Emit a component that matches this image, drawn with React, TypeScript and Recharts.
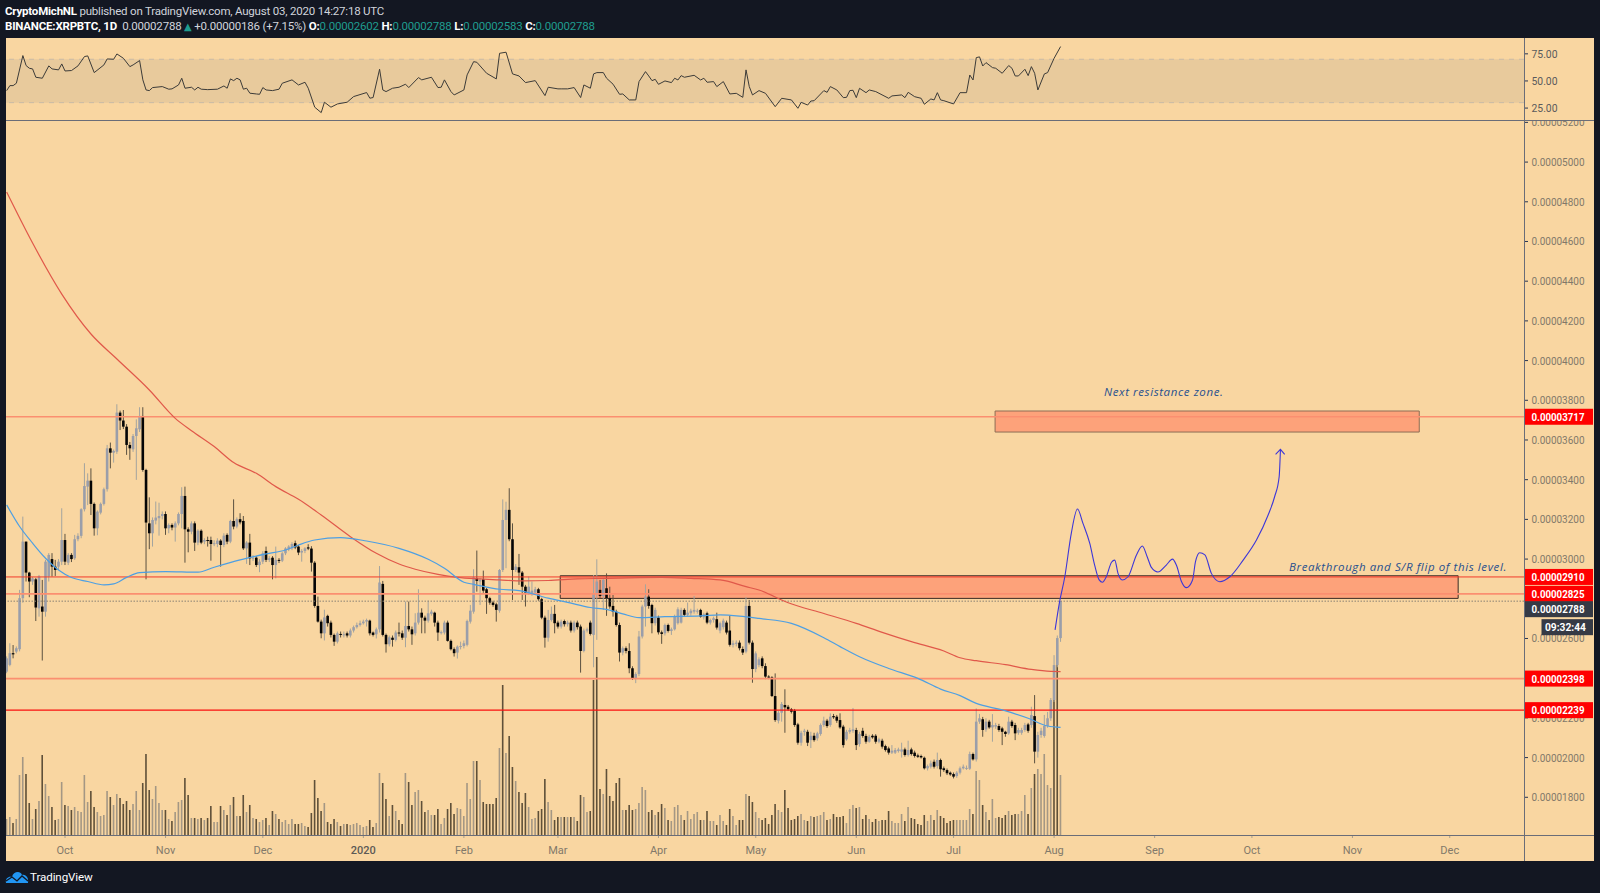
import React from "react";
import {
	Bar,
	ComposedChart,
	Line,
	ReferenceArea,
	ReferenceLine,
	XAxis,
	YAxis,
} from "recharts";

// All prices are in satoshi (1e-8 BTC). Day 0 is 2019-09-13.
const opens = [
	2433,2467,2526,2534,2546,2803,3088,2932,2887,2898,
	2752,2761,2735,2912,3000,2962,2962,2987,3096,2982,
	3021,3004,3100,3117,3251,3365,3395,3278,3155,3234,
	3278,3352,3558,3536,3541,3738,3698,3667,3575,3553,
	3620,3654,3721,3449,3180,3130,3194,3206,3217,3227,
	3155,3172,3159,3180,3227,3318,3150,3138,3180,3083,
	3143,3088,3096,3096,3080,3076,3093,3071,3122,3088,
	3192,3164,3201,3192,3054,3083,3004,3007,2970,2987,
	3041,2996,3007,2970,2996,2992,3029,3049,3054,3080,
	3063,3033,3041,3059,3053,2982,2764,2685,2626,2714,
	2680,2618,2584,2623,2618,2626,2615,2640,2657,2668,
	2677,2685,2690,2630,2621,2646,2875,2618,2571,2604,
	2593,2630,2626,2604,2663,2646,2626,2680,2730,2705,
	2690,2724,2730,2680,2630,2630,2680,2588,2546,2529,
	2559,2562,2568,2685,2735,2903,2887,2898,2848,2803,
	2781,2772,2740,2945,3197,3248,3100,2945,2959,2932,
	2861,2831,2828,2831,2848,2798,2705,2604,2693,2724,
	2680,2660,2688,2672,2680,2640,2680,2660,2537,2640,
	2680,2618,2824,2845,2814,2853,2803,2764,2735,2668,
	2529,2551,2537,2450,2400,2421,2610,2761,2811,2769,
	2677,2705,2631,2626,2668,2638,2646,2677,2680,2744,
	2719,2727,2735,2735,2744,2707,2727,2680,2693,2697,
	2640,2657,2680,2640,2568,2573,2579,2547,2534,2764,
	2579,2446,2466,2500,2461,2408,2404,2310,2186,2226,
	2265,2256,2243,2236,2167,2075,2130,2130,2088,2110,
	2097,2119,2164,2186,2164,2209,2206,2189,2156,2092,
	2130,2135,2139,2068,2135,2109,2080,2110,2110,2080,
	2085,2058,2046,2025,2025,2033,2030,2041,2013,2041,
	2025,2011,2008,1999,1946,1954,1979,1957,1988,1946,
	1937,1924,1917,1907,1924,1946,1946,1944,2018,1991,
	2181,2193,2142,2181,2152,2156,2159,2147,2130,2122,
	2181,2164,2125,2125,2139,2167,2164,2209,2030,2114,
	2109,2159,2198,2290,2466,2602,
];
const closes = [
	2500,2526,2520,2551,2803,3088,2932,2887,2903,2756,
	2912,2735,2987,3021,2962,2945,2987,3096,2987,3021,
	3000,3100,3117,3251,3368,3395,3278,3155,3239,3278,
	3352,3558,3536,3545,3738,3698,3667,3575,3558,3620,
	3659,3721,3449,3184,3130,3197,3209,3217,3227,3155,
	3172,3159,3180,3227,3318,3150,3138,3180,3083,3143,
	3083,3096,3093,3076,3080,3093,3071,3118,3088,3192,
	3164,3201,3185,3054,3083,3004,3007,2970,2987,3029,
	2996,3004,2970,2996,2992,3029,3054,3063,3076,3059,
	3033,3041,3054,3053,2982,2764,2685,2626,2706,2677,
	2618,2584,2626,2618,2621,2615,2640,2657,2668,2677,
	2685,2693,2626,2618,2646,2882,2618,2571,2606,2593,
	2630,2626,2604,2663,2646,2621,2680,2730,2705,2690,
	2727,2735,2680,2630,2632,2680,2588,2546,2526,2559,
	2562,2576,2688,2740,2908,2890,2895,2841,2803,2781,
	2769,2744,2945,3197,3248,3100,2945,2962,2932,2861,
	2831,2861,2841,2848,2798,2705,2604,2693,2724,2677,
	2660,2685,2672,2680,2640,2680,2657,2537,2640,2646,
	2623,2824,2887,2814,2895,2803,2761,2735,2668,2529,
	2551,2537,2450,2396,2421,2610,2761,2811,2764,2677,
	2744,2631,2623,2668,2638,2646,2710,2747,2744,2719,
	2730,2740,2744,2740,2710,2722,2680,2693,2702,2655,
	2677,2690,2630,2568,2576,2579,2551,2529,2764,2579,
	2446,2525,2495,2461,2408,2404,2310,2189,2226,2270,
	2253,2243,2231,2164,2075,2125,2135,2075,2110,2088,
	2122,2164,2186,2159,2206,2203,2186,2152,2063,2130,
	2139,2142,2063,2119,2109,2080,2105,2102,2080,2092,
	2055,2038,2025,2035,2038,2041,2041,2013,2038,2018,
	2008,2004,2001,1946,1957,1971,1954,1988,1941,1937,
	1921,1915,1904,1924,1946,1954,1948,2018,1991,2181,
	2198,2139,2181,2152,2164,2164,2139,2130,2119,2181,
	2159,2122,2139,2139,2164,2135,2214,2030,2114,2135,
	2159,2198,2290,2466,2602,2788,
];
const highs = [
	2510,2576,2567,2560,2845,3214,3088,2936,2910,2905,
	2920,2895,2996,3030,3030,2996,3000,3256,3127,3030,
	3030,3122,3130,3256,3483,3432,3457,3285,3245,3285,
	3360,3575,3587,3552,3780,3748,3751,3680,3590,3630,
	3704,3765,3765,3455,3311,3210,3290,3284,3240,3240,
	3180,3180,3190,3235,3362,3365,3160,3190,3190,3150,
	3150,3105,3113,3113,3095,3105,3100,3130,3130,3198,
	3301,3210,3231,3217,3090,3127,3020,3015,3000,3040,
	3063,3015,3015,3063,3005,3035,3060,3070,3085,3093,
	3070,3050,3060,3075,3065,2990,2811,2695,2745,2720,
	2690,2625,2635,2635,2635,2635,2650,2665,2680,2690,
	2695,2700,2695,2635,2655,2965,2890,2625,2615,2615,
	2640,2680,2640,2786,2786,2660,2727,2848,2752,2715,
	2791,2745,2735,2690,2640,2690,2690,2595,2555,2565,
	2584,2590,2695,2769,2949,3043,2905,2942,2855,2810,
	2790,2780,2950,3301,3289,3357,3180,2975,3026,2940,
	2870,2912,2887,2860,2855,2805,2715,2744,2761,2769,
	2690,2695,2695,2690,2690,2690,2690,2670,2650,2655,
	2690,2920,2999,2895,2905,2928,2861,2819,2745,2680,
	2560,2560,2576,2460,2430,2638,2770,2873,2848,2775,
	2755,2715,2640,2675,2675,2655,2720,2757,2755,2752,
	2781,2750,2814,2750,2750,2730,2735,2700,2710,2730,
	2685,2700,2690,2714,2590,2590,2590,2560,2808,2794,
	2590,2535,2505,2510,2475,2415,2410,2424,2235,2280,
	2344,2265,2250,2245,2175,2135,2145,2140,2130,2125,
	2130,2172,2206,2195,2223,2220,2215,2223,2165,2140,
	2150,2250,2150,2130,2150,2120,2115,2118,2118,2100,
	2095,2065,2055,2063,2048,2050,2075,2050,2085,2050,
	2035,2020,2015,2005,1965,1985,1990,2025,1995,1955,
	1945,1930,1925,1932,1955,1965,1960,2030,2025,2248,
	2220,2205,2198,2190,2219,2175,2170,2155,2135,2206,
	2190,2175,2150,2150,2175,2175,2256,2315,2130,2150,
	2215,2230,2300,2516,2615,2788,
];
const lows = [
	2425,2460,2500,2525,2535,2780,2887,2808,2870,2688,
	2710,2489,2710,2887,2912,2915,2945,2970,2970,2970,
	2985,2996,3090,3105,3240,3272,3222,3118,3120,3225,
	3270,3340,3457,3486,3530,3650,3655,3525,3500,3540,
	3399,3640,3440,2898,3050,3063,3175,3118,3200,3122,
	3130,3145,3088,3170,3155,2982,3034,3125,3041,3070,
	3075,3075,3063,2992,3065,3060,2962,3060,3075,3080,
	3150,3155,3175,3046,2976,2970,2990,2960,2934,2975,
	2985,2985,2898,2903,2980,2985,3020,3040,3045,3050,
	3020,2987,3030,3045,2937,2755,2680,2601,2590,2660,
	2605,2563,2575,2605,2605,2605,2605,2630,2650,2660,
	2670,2660,2615,2610,2600,2630,2610,2529,2560,2559,
	2585,2610,2593,2556,2635,2568,2615,2670,2626,2626,
	2680,2715,2660,2588,2620,2620,2584,2540,2509,2499,
	2545,2550,2560,2675,2725,2836,2769,2830,2724,2770,
	2760,2685,2730,2935,2954,3090,2794,2935,2870,2794,
	2761,2820,2815,2820,2790,2697,2554,2584,2685,2626,
	2650,2650,2660,2660,2630,2630,2645,2428,2530,2630,
	2615,2455,2593,2805,2744,2714,2750,2710,2660,2484,
	2515,2525,2425,2391,2375,2410,2600,2660,2750,2626,
	2665,2620,2573,2615,2630,2618,2640,2670,2675,2710,
	2710,2715,2725,2725,2705,2695,2672,2670,2680,2645,
	2626,2645,2620,2559,2555,2560,2540,2517,2525,2570,
	2377,2430,2455,2450,2395,2395,2305,2180,2172,2181,
	2125,2235,2222,2155,2065,2060,2110,2058,2048,2080,
	2085,2110,2155,2150,2155,2195,2175,2145,2050,2085,
	2120,2125,2038,2055,2100,2070,2075,2095,2070,2072,
	2045,2030,2015,2018,2018,2025,2000,2005,2005,2010,
	2000,1998,1995,1940,1935,1945,1945,1945,1904,1928,
	1912,1908,1895,1898,1915,1940,1938,1938,1985,1980,
	2170,2105,2130,2145,2080,2145,2130,2063,2105,2115,
	2150,2088,2115,2115,2130,2125,2150,1971,2000,2100,
	2100,2150,2185,2280,2455,2583,
];
// relative volume, one per candle
const volumes = [
	16,18,12,16,60,78,61,32,16,26,34,80,51,39,28,15,16,53,30,29,
	25,28,24,23,60,33,44,28,23,19,20,44,38,30,41,37,31,34,25,31,
	44,25,52,81,45,36,49,32,25,25,16,14,23,33,35,57,40,17,17,16,
	17,15,17,29,13,13,29,25,20,30,38,19,19,40,23,30,17,16,13,15,
	17,10,24,21,16,13,15,11,16,11,11,12,9,8,22,55,37,24,32,13,
	11,16,13,9,11,11,10,11,12,10,8,9,15,8,12,62,52,36,19,30,
	24,15,11,62,53,30,43,45,34,23,25,20,20,26,11,17,26,32,21,27,
	26,19,52,36,74,74,55,33,31,31,31,37,87,150,82,99,68,54,43,32,
	42,28,16,17,24,
	26,56,33,25,15,18,18,18,18,18,18,14,40,38,23,24,155,178,
	46,41,66,39,34,52,57,25,25,30,25,26,32,48,45,23,25,20,23,31,27,15,14,28,30,20,
	15,24,16,21,23,15,15,24,14,14,10,20,14,10,26,19,10,15,15,41,39,33,23,17,15,17,11,20,31,25,
	23,45,27,15,16,19,21,15,14,19,18,19,20,23,15,16,21,18,18,19,12,26,30,27,28,16,20,16,13,16,
	14,15,15,24,14,12,12,21,14,28,17,16,11,10,20,14,20,15,25,19,17,12,14,15,15,15,15,15,26,21,
	64,55,30,23,15,36,17,18,17,20,24,20,21,21,24,40,21,47,61,66,61,81,50,47,150,190,60,
];
// the spike days whose volume bars read dark in the picture
const darkVolumeDays = [153,181,182,323,324];

// RSI turning points
const rsiDays = [
	0,1,2,3,5,6,7,8,9,11,13,14,16,17,18,20,22,24,25,27,30,31,33,34,36,38,39,41,42,43,44,45,48,50,51,53,54,55,57,58,
	59,60,62,65,67,68,69,70,71,72,73,74,75,77,78,79,80,82,84,85,88,90,92,93,95,97,98,100,102,105,107,111,112,113,115,116,117,119,121,123,
	124,127,128,131,133,134,135,137,138,141,142,144,145,148,151,152,154,156,158,160,163,166,167,170,171,173,175,177,178,180,181,182,184,185,187,189,190,192,194,195,
	197,198,199,200,201,203,205,206,207,208,209,212,214,215,216,218,219,221,223,225,227,228,229,230,232,234,237,239,242,244,245,247,248,249,252,253,254,256,258,259,
	260,261,262,263,265,266,268,272,273,276,277,278,280,282,283,285,286,287,288,289,292,294,296,297,298,299,300,301,302,304,305,307,309,310,311,312,314,315,316,317,318,320,321,323,325,
];
const rsiValues = [
	41.1,45.7,45.7,47.9,73.4,64.2,61.7,61.1,53.4,52.5,63.9,61.1,60.2,65.7,59.2,59.6,63.9,72.5,73.1,57.7,64.8,70.3,70,74.9,70.9,63.2,64.8,68.8,51,41.7,41.1,43.9,44.8,42.4,42.7,46.3,52.5,43.3,44.2,41.7,
	44.2,42.4,42,42.4,45.4,43.3,51.9,50.3,52.5,51,42.4,43.3,38.7,38,37.7,43.9,41.7,41.1,42.4,47.9,51,46.3,48.8,43.3,25.8,20.8,30.4,25.8,28.8,30.4,35.6,39.3,34.1,34.7,60.8,41.7,40.2,43.3,44.2,47,
	43.9,53.1,51,53.4,43.9,44.2,51,40.2,37.1,41.7,55.6,67.8,67.2,57.1,51.9,75.5,76.5,56.5,54.6,48.5,50.3,36.5,44.2,42.7,42.7,42.7,43.9,34.7,46.3,43.3,56.5,57.7,57.7,52.5,47,37.7,38,32.5,32.5,49.4,
	58.6,54.6,50.3,51.5,46.9,50,48.5,52.5,50.9,54.9,53.4,55.2,50.9,52.5,48.8,49.4,44.8,49.4,38,38.6,34.9,60.2,44.8,37.1,41.1,38.6,26.3,34,32.5,24.8,30.3,27.8,31.5,31.8,41.1,39.5,44.8,41.7,34.6,34.9,
	41.1,41.4,34.6,43.2,39.2,41.7,40.2,34,36.2,37.1,34.6,39.5,35.5,34,28.5,33.4,32.5,39.2,32.5,31.8,28.8,39.2,39.2,55.5,50.9,71.5,72.2,63.8,66.9,62.3,61.7,57.1,64.2,61.7,54.6,54.6,60.8,54.9,63.2,57.1,41.7,56.5,57.7,70.9,81.7,
];

const slowMaDays = [0,8,17,26,34,44,52,57,64,70,77,83,90,97,106,114,121,126,133,139,146,152,159,167,176,185,195,202,211,220,228,232,241,252,262,270,279,289,294,299,308,316,322,325];
const slowMaValues = [4849,4592,4335,4134,4008,3852,3709,3647,3567,3486,3432,3365,3301,3222,3113,3029,2975,2949,2923,2908,2900,2895,2890,2892,2900,2903,2907,2908,2903,2895,2861,2844,2780,2726,2676,2631,2584,2537,2503,2488,2468,2444,2434,2433];

const fastMaDays = [0,4,8,12,16,20,25,30,33,37,41,49,59,64,72,80,86,90,95,103,111,121,130,135,141,144,152,158,167,173,180,185,190,195,203,214,220,226,232,242,252,257,263,272,281,288,294,299,307,315,321,325];
const fastMaValues = [3273,3164,3080,3004,2945,2907,2887,2870,2875,2908,2932,2937,2934,2959,2996,3026,3046,3071,3096,3108,3091,3054,2999,2954,2883,2873,2848,2841,2803,2782,2756,2747,2724,2705,2710,2714,2719,2713,2701,2676,2604,2559,2508,2449,2399,2345,2312,2273,2240,2198,2159,2152];

// hand drawn projection
const projectionDays = [323.3,324.6,326.3,328.3,330.2,331.9,334,335.5,336.9,337.9,339.1,340.7,341.7,342.7,344,345.8,348.4,350.2,351.7,353,355,357.6,359.5,360.7,362.3,363.8,365.7,366.6,367.9,369.5,371.5,374.1,377.2,381.3,385.4,389,391,392.4,392.8];
const projectionPrices = [2643,2777,2911,3130,3252,3180,3079,2970,2895,2883,2911,2984,2995,2928,2895,2911,3021,3066,3012,2958,2935,2970,3000,2970,2886,2856,2895,2987,3032,3021,2928,2886,2911,2995,3096,3222,3314,3415,3553];
const arrowDays = [391.3,392.8,394.1];
const arrowPrices = [3528,3553,3528];

const priceTicks = [5200,5000,4800,4600,4400,4200,4000,3800,3600,3400,3200,3000,2600,2200,2000,1800];
const levelTicks = [3717,2910,2825,2398,2239];
const lastPrice = 2788;
const rsiTicks = [75,50,25];

const monthTicks = [18,49,79,110,141,170,201,231,262,292,323,354,384,415,445];
const monthLabels = ["Oct","Nov","Dec","2020","Feb","Mar","Apr","May","Jun","Jul","Aug","Sep","Oct","Nov","Dec"];

const candleRows = opens.map((open, day) => ({
	day,
	open,
	close: closes[day],
	high: highs[day],
	low: lows[day],
	range: [lows[day], highs[day]],
	volume: volumes[day],
}));
const toPoints = (days: number[], values: number[]) =>
	days.map((day, i) => ({ day, value: values[i] }));

const DAY_DOMAIN: [number, number] = [-0.2, 467.9];
const PRICE_DOMAIN: [number, number] = [1610, 5212];
const PANEL_WIDTH = 1588;
const AXIS_WIDTH = 70;
const BG = "#f9d6a1";
const DARK = "#131722";
const AXIS_COLOR = "#6a6d78";
const FONT = "Roboto, sans-serif";
const PRICE_TEXT_WIDTH = 53;

const formatPrice = (sats: number): string => `0.0000${sats}`;

const Candle = (props: any): React.ReactElement => {
	const { x, y, width, height, payload } = props;
	const { open, close, high, low } = payload;
	const up = close >= open;
	const toY = (price: number): number => y + ((high - price) / (high - low)) * height;
	const cx = x + width / 2;
	const top = toY(Math.max(open, close));
	const bottom = toY(Math.min(open, close));
	return (
		<g>
			<line
				x1={cx}
				x2={cx}
				y1={y}
				y2={y + height}
				stroke={up ? "#a3a49f" : "#5b5140"}
				strokeWidth={1}
			/>
			<rect
				x={cx - 1.3}
				y={top}
				width={2.6}
				height={Math.max(bottom - top, 1)}
				fill={up ? "#9a9eaa" : "#050505"}
			/>
		</g>
	);
};

const VolumeBar = (props: any): React.ReactElement => {
	const { x, y, width, height, payload } = props;
	const dark = payload.close < payload.open || darkVolumeDays.includes(payload.day);
	return (
		<rect
			x={x + width / 2 - 0.8}
			y={y}
			width={1.6}
			height={height}
			fill={dark ? "#5f5039" : "#a49784"}
		/>
	);
};

const PriceTick = (props: any): React.ReactElement => {
	const { x, y, payload } = props;
	const value: number = payload.value;
	const label = {
		textLength: PRICE_TEXT_WIDTH,
		lengthAdjust: "spacingAndGlyphs",
		fontSize: 11,
		fontFamily: FONT,
	} as const;
	if (levelTicks.includes(value)) {
		return (
			<g>
				<rect x={x} y={y - 8} width={69} height={16} fill="#ff0000" />
				<text x={x + 7.5} y={y + 4} fill="#ffffff" fontWeight={700} {...label}>
					{formatPrice(value)}
				</text>
			</g>
		);
	}
	if (value === lastPrice) {
		// the last price label is pushed below its line, the countdown hangs under it
		return (
			<g>
				<rect x={x} y={y} width={69} height={16} fill="#363a45" />
				<text x={x + 7.5} y={y + 12} fill="#ffffff" fontWeight={700} {...label}>
					{formatPrice(value)}
				</text>
				<rect x={x + 17.5} y={y + 18} width={51.5} height={16} fill="#363a45" />
				<text
					x={x + 21}
					y={y + 30}
					fill="#ffffff"
					fontWeight={700}
					fontSize={11}
					fontFamily={FONT}
					textLength={41}
					lengthAdjust="spacingAndGlyphs"
				>
					09:32:44
				</text>
			</g>
		);
	}
	return (
		<g>
			<line x1={x} x2={x + 4} y1={y} y2={y} stroke="#2a3550" />
			<text x={x + 7.5} y={y + 4} fill="#82796a" {...label}>
				{formatPrice(value)}
			</text>
		</g>
	);
};

const RsiTick = (props: any): React.ReactElement => {
	const { x, y, payload } = props;
	return (
		<g>
			<line x1={x} x2={x + 4} y1={y} y2={y} stroke="#2a3550" />
			<text
				x={x + 7.5}
				y={y + 4}
				fill="#5a5a5c"
				fontSize={11}
				fontFamily={FONT}
				textLength={26}
				lengthAdjust="spacingAndGlyphs"
			>
				{payload.value.toFixed(2)}
			</text>
		</g>
	);
};

const MonthTick = (props: any): React.ReactElement => {
	const { x, y, payload } = props;
	const label = monthLabels[monthTicks.indexOf(payload.value)];
	return (
		<text
			x={x}
			y={y + 16}
			textAnchor="middle"
			fill={label === "2020" ? "#5d5a55" : "#82796a"}
			fontSize={11}
			fontWeight={label === "2020" ? 500 : 400}
			fontFamily={FONT}
		>
			{label}
		</text>
	);
};

const Logo = (): React.ReactElement => (
	<svg width={24} height={14} style={{ position: "absolute", left: 5, top: 870 }}>
		<path d="M1 13 C0 8 4 6 7 7 C8 2 15 0 17 5 C21 4 24 8 23 13 Z" fill="#2196f3" />
		<path d="M1 11 L7 7 L12 11 L17 6 L23 11" fill="none" stroke="#131722" strokeWidth={1.3} />
	</svg>
);

const textBase: React.CSSProperties = {
	position: "absolute",
	whiteSpace: "pre",
	fontFamily: FONT,
	fontSize: 11.5,
	letterSpacing: -0.2,
	lineHeight: "14px",
};

const Header = (): React.ReactElement => {
	const soft = { color: "#d1d4dc" };
	const strong = { color: "#ffffff", fontWeight: 700 };
	const teal = { color: "#1f9c8f" };
	return (
		<>
			<div style={{ ...textBase, left: 5, top: 4, ...soft }}>
				<span style={strong}>CryptoMichNL</span> published on TradingView.com, August 03, 2020 14:27:18 UTC
			</div>
			<div style={{ ...textBase, left: 5, top: 19, ...soft }}>
				<span style={strong}>BINANCE:XRPBTC, 1D</span>
				{"  0.00002788 "}
				<span style={{ ...teal, fontFamily: "'DejaVu Sans'", fontSize: 10, lineHeight: 0 }}>▲</span>
				{" +0.00000186 (+7.15%) "}
				<span style={strong}>O:</span>
				<span style={teal}>0.00002602</span> <span style={strong}>H:</span>
				<span style={teal}>0.00002788</span> <span style={strong}>L:</span>
				<span style={teal}>0.00002583</span> <span style={strong}>C:</span>
				<span style={teal}>0.00002788</span>
			</div>
		</>
	);
};

const Note = (props: { left: number; top: number; text: string }): React.ReactElement => (
	<div
		style={{
			position: "absolute",
			left: props.left,
			top: props.top,
			whiteSpace: "pre",
			fontFamily: "'Open Sans', sans-serif",
			fontStyle: "italic",
			fontSize: 11.5,
			letterSpacing: 0.6,
			lineHeight: "14px",
			color: "#27508f",
		}}
	>
		{props.text}
	</div>
);

const layer: React.CSSProperties = { position: "absolute", left: 6 };

export default function App(): React.ReactElement {
	return (
		<div
			style={{
				position: "absolute",
				left: 0,
				top: 0,
				width: 1600,
				height: 893,
				overflow: "hidden",
				background: DARK,
			}}
		>
			<Header />
			<div style={{ ...layer, top: 38, width: PANEL_WIDTH, height: 823, background: BG }} />

			{/* RSI pane */}
			<div style={{ ...layer, top: 38 }}>
				<ComposedChart
					width={PANEL_WIDTH}
					height={82}
					data={toPoints(rsiDays, rsiValues)}
					margin={{ top: 0, right: 0, bottom: 0, left: 0 }}
				>
					<XAxis type="number" dataKey="day" domain={DAY_DOMAIN} hide allowDataOverflow />
					<YAxis
						orientation="right"
						width={AXIS_WIDTH}
						domain={[14, 89.6]}
						ticks={rsiTicks}
						interval={0}
						axisLine={false}
						tickLine={false}
						tickSize={0}
						tickMargin={0}
						tick={<RsiTick />}
						allowDataOverflow
					/>
					<ReferenceArea y1={30} y2={70} fill="#d8bd98" fillOpacity={0.5} stroke="none" />
					<ReferenceLine y={70} stroke="#c9bba6" strokeDasharray="5 5" />
					<ReferenceLine y={30} stroke="#c9bba6" strokeDasharray="5 5" />
					<Line
						dataKey="value"
						stroke="#3c3b38"
						strokeWidth={1}
						dot={false}
						isAnimationActive={false}
					/>
				</ComposedChart>
			</div>

			{/* volume sits behind the price layer, both share one frame */}
			<div style={{ ...layer, top: 120 }}>
				<ComposedChart
					width={PANEL_WIDTH}
					height={741}
					data={candleRows}
					margin={{ top: 0, right: AXIS_WIDTH, bottom: 26, left: 0 }}
				>
					<XAxis type="number" dataKey="day" domain={DAY_DOMAIN} hide allowDataOverflow />
					<YAxis domain={[0, 715]} hide allowDataOverflow />
					<Bar
						dataKey="volume"
						barSize={3}
						shape={<VolumeBar />}
						isAnimationActive={false}
					/>
				</ComposedChart>
			</div>

			<div style={{ ...layer, top: 120 }}>
				<ComposedChart
					width={PANEL_WIDTH}
					height={741}
					data={candleRows}
					margin={{ top: 0, right: 0, bottom: 0, left: 0 }}
				>
					<XAxis
						type="number"
						dataKey="day"
						domain={DAY_DOMAIN}
						ticks={monthTicks}
						interval={0}
						height={26}
						axisLine={false}
						tickLine={{ stroke: "#a89f8d" }}
						tickSize={3}
						tickMargin={0}
						tick={<MonthTick />}
						allowDataOverflow
					/>
					<YAxis
						orientation="right"
						width={AXIS_WIDTH}
						domain={PRICE_DOMAIN}
						ticks={[...priceTicks, ...levelTicks, lastPrice]}
						interval={0}
						axisLine={false}
						tickLine={false}
						tickSize={0}
						tickMargin={0}
						tick={<PriceTick />}
						allowDataOverflow
					/>
					<ReferenceArea
						x1={170.7}
						x2={447.6}
						y1={2802}
						y2={2916}
						fill="#ff7f60"
						fillOpacity={0.6}
						stroke="#3a2c25"
						strokeWidth={1}
					/>
					<ReferenceArea
						x1={304.8}
						x2={435.6}
						y1={3640}
						y2={3746}
						fill="#ff7f60"
						fillOpacity={0.6}
						stroke="#8e6d55"
						strokeWidth={1}
					/>
					<ReferenceLine y={3717} stroke="#fb8f70" strokeWidth={1.5} />
					<ReferenceLine y={2910} stroke="#f23a2a" strokeWidth={1} />
					<ReferenceLine y={2825} stroke="#fb8f70" strokeWidth={1.8} />
					<ReferenceLine y={2398} stroke="#fb8f70" strokeWidth={1.8} />
					<ReferenceLine y={2239} stroke="#fa0f0f" strokeWidth={1.4} />
					<ReferenceLine y={lastPrice} stroke="#8a8274" strokeDasharray="1.5 1.5" />
					<Bar
						dataKey="range"
						barSize={3}
						shape={<Candle />}
						isAnimationActive={false}
					/>
					<Line
						data={toPoints(slowMaDays, slowMaValues)}
						dataKey="value"
						type="monotone"
						stroke="#e0584a"
						strokeWidth={1.2}
						dot={false}
						isAnimationActive={false}
					/>
					<Line
						data={toPoints(fastMaDays, fastMaValues)}
						dataKey="value"
						type="monotone"
						stroke="#4d9fe3"
						strokeWidth={1.2}
						dot={false}
						isAnimationActive={false}
					/>
					<Line
						data={toPoints(projectionDays, projectionPrices)}
						dataKey="value"
						type="monotoneX"
						stroke="#3c36d8"
						strokeWidth={1.1}
						dot={false}
						isAnimationActive={false}
					/>
					<Line
						data={toPoints(arrowDays, arrowPrices)}
						dataKey="value"
						stroke="#3c36d8"
						strokeWidth={1.1}
						dot={false}
						isAnimationActive={false}
					/>
				</ComposedChart>
			</div>

			<Note left={1104} top={385} text="Next resistance zone." />
			<Note left={1289} top={560} text="Breakthrough and S/R flip of this level." />

			{/* pane separators and the price axis rule */}
			<div style={{ position: "absolute", left: 6, top: 120, width: PANEL_WIDTH, height: 1, background: AXIS_COLOR }} />
			<div style={{ position: "absolute", left: 6, top: 835, width: PANEL_WIDTH, height: 1, background: AXIS_COLOR }} />
			<div style={{ position: "absolute", left: 1524, top: 38, width: 1, height: 823, background: AXIS_COLOR }} />

			<Logo />
			<div style={{ ...textBase, left: 30, top: 870, color: "#ffffff", fontSize: 11.6, letterSpacing: -0.1 }}>TradingView</div>
		</div>
	);
}
